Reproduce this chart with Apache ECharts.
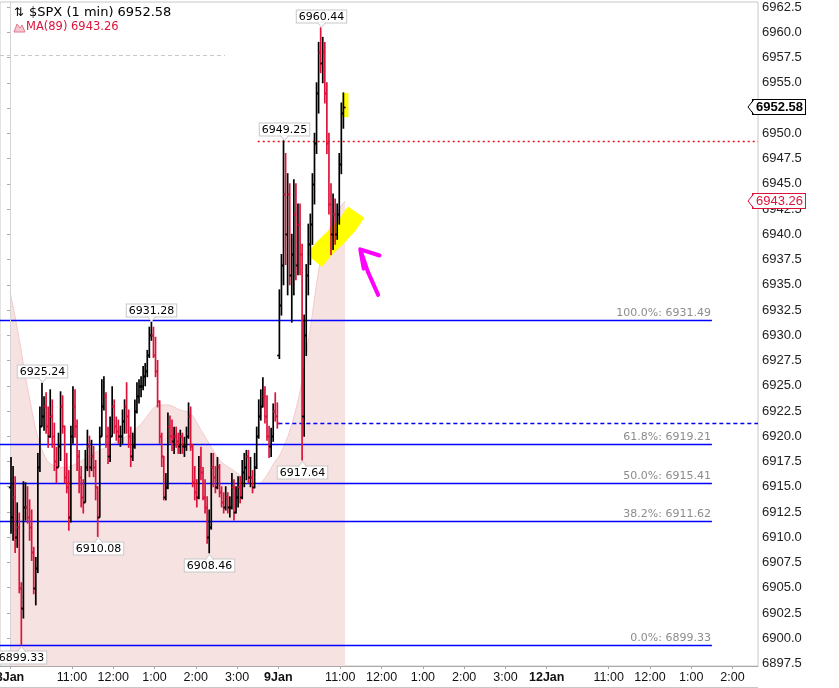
<!DOCTYPE html>
<html><head><meta charset="utf-8">
<script src="https://cdn.jsdelivr.net/npm/echarts@6/dist/echarts.min.js"></script>
<style>html,body{margin:0;padding:0;background:#fff}#c{width:839px;height:688px}</style>
</head><body><div id="c"></div>
<script>
// ---------- DATA ----------
// 3-minute OHLC bars [open, high, low, close], 8 Jan 9:30-16:00
const day1Bars = [
[6915,6917.9,6910.4,6912],[6912,6917,6909.7,6914],[6914,6916,6908.5,6910],[6910,6913.4,6909,6911],
[6911,6912.4,6904.5,6905],[6905,6905.5,6899.33,6903],[6903,6915.5,6902,6913],[6913,6915.4,6911.7,6913],
[6913,6915,6911.4,6912],[6912,6913.7,6909.7,6911],[6911,6912.7,6907.7,6908.5],[6908.5,6909,6904.4,6905],
[6905,6908,6903.3,6907],[6907,6918.3,6906.5,6917],[6917,6922.9,6916.5,6921],[6921,6925.24,6921,6922],
[6922,6923.9,6920.6,6923],[6923,6924.3,6920.3,6921],[6921,6922.9,6918.9,6920],[6920,6924.6,6919.9,6922],
[6922,6923.6,6918.9,6920],[6920,6921.3,6916.6,6917.5],[6917.5,6918.9,6915.4,6917],[6917,6920.3,6917,6919],
[6919,6924.4,6917.6,6923],[6923,6924,6920.3,6921],[6921,6921,6915.4,6916],[6916,6918.3,6914.4,6915],
[6915,6916.6,6910.7,6912],[6912,6921,6911.5,6920],[6920,6924.9,6919.3,6923],[6923,6924.6,6919.9,6921],
[6921,6921.6,6916.6,6918],[6918,6918.6,6914.4,6916],[6916,6917,6913,6914],[6914,6915.7,6912.4,6913.5],
[6913.5,6918.6,6913.5,6917],[6917,6920.6,6916.6,6919],[6919,6920,6916,6917],[6917,6919.6,6916.6,6918],
[6918,6919,6916,6917],[6917,6917.6,6913.7,6915],[6915,6915,6910.08,6912],[6912,6920.9,6912,6920],
[6920,6925.6,6920,6923],[6923,6925.9,6922.6,6924],[6924,6924.3,6918.9,6920],[6920,6920.9,6917.3,6918],
[6918,6921.9,6917.5,6920],[6920,6924.9,6920,6923],[6923,6923.6,6920.3,6921],[6921,6921.9,6919.6,6920.5],
[6920.5,6921.6,6919.3,6920],[6920,6921,6919,6920],[6920,6922.6,6919.3,6921.5],[6921.5,6923.6,6920.3,6923],
[6923,6925.3,6920.3,6922],[6922,6922.6,6918.9,6920],[6920,6920.9,6917,6918],[6918,6920.3,6917.6,6919],
[6919,6923.6,6918.8,6922.5],[6922.5,6925.3,6922.3,6924],[6924,6925.6,6923.3,6925],[6925,6925.9,6923.9,6925],
[6925,6926.9,6924.6,6926],[6926,6927.2,6925,6926.5],[6926.5,6928.5,6925.9,6928],[6928,6930.8,6927.8,6930],
[6930,6931.28,6929.5,6930],[6930,6930.8,6927.8,6928],[6928,6929.8,6925.9,6926.5],[6926.5,6927.5,6922.9,6923.5],
[6923.5,6923.5,6919.3,6920],[6920,6920.3,6917,6918],[6918,6918,6913.7,6914],[6914,6916.3,6913.7,6915],
[6915,6922.3,6914.8,6921],[6921,6922,6919.3,6920],[6920,6921.6,6918.6,6919.5],[6919.5,6920.9,6918.3,6920],
[6920,6920.9,6918.9,6919.5],[6919.5,6920.3,6918.3,6919],[6919,6920.6,6918.3,6920],[6920,6920.3,6918.3,6919],
[6919,6919.9,6918,6919],[6919,6920.9,6918.6,6920],[6920,6923.3,6919.8,6922],[6922,6922.9,6918.6,6919],
[6919,6919.2,6915,6915.5],[6915.5,6917,6913.7,6914.5],[6914.5,6915.7,6913,6914],[6914,6918,6913.8,6917],
[6917,6918.9,6915.7,6916.5],[6916.5,6916.9,6913.7,6914],[6914,6915.7,6912.4,6913],[6913,6914,6909.4,6910],
[6910,6912.7,6908.46,6911],[6911,6918.3,6910.8,6917],[6917,6918.3,6915,6916],[6916,6917,6914.4,6915],
[6915,6917.9,6914.8,6917],[6917,6917.2,6914,6914.5],[6914.5,6915,6913,6913.5],[6913.5,6914.4,6912.4,6913],
[6913,6915,6912.7,6914],[6914,6914.4,6912.4,6913],[6913,6914,6912,6913],[6913,6916.3,6912.8,6915],
[6915,6915.7,6911.7,6912.5],[6912.5,6915,6912.4,6914],[6914,6916,6913,6915],[6915,6916,6913.4,6914],
[6914,6917.6,6913.8,6916.5],[6916.5,6918.3,6915,6917],[6917,6918.6,6915.7,6918],[6918,6918.6,6915.4,6916],
[6916,6917.9,6915,6916],[6916,6916.6,6914.4,6915],[6915,6918.3,6914.9,6917],[6917,6920.9,6916.8,6920],
[6920,6923.6,6919.8,6922],[6922,6924.6,6921.6,6923],[6923,6925.8,6922.9,6924],[6924,6924.9,6921.3,6922],
[6922,6924,6919.6,6920],[6920,6921,6917.9,6919],[6919,6920.8,6918,6920],[6920,6923.2,6919.5,6922.5],
[6922.5,6924.3,6921.5,6922],[6922,6923.3,6920.8,6921.3]
];
// 3-minute OHLC bars, 9 Jan 9:30-11:06
const day2Bars = [
[6928,6934.5,6927.7,6933],[6933,6938,6932,6937],[6937,6949.25,6935,6944],[6944,6948,6937,6940],
[6940,6946,6934,6944],[6944,6945,6935,6936],[6936,6940,6931.3,6938],[6938,6945.4,6934,6942],
[6942,6945,6935.5,6937],[6937,6943,6936,6941],[6941,6943,6936,6938],[6938,6939,6917.64,6922],
[6922,6932,6920,6930],[6930,6937,6928,6936],[6936,6941,6934,6939],[6939,6942,6937,6941],
[6941,6946,6939,6945],[6945,6950,6943,6949],[6949,6955,6948,6954],[6954,6959,6952,6958],
[6958,6960.44,6956,6957],[6957,6959.5,6955,6958],[6958,6959,6953,6954],[6954,6955,6948,6949],
[6949,6950,6942,6943],[6943,6945,6938,6940],[6940,6944,6938.5,6942],[6942,6943.5,6939,6940],
[6940,6943,6939.5,6942],[6942,6948,6941,6947],[6947,6953,6946,6952],[6952,6954,6950.5,6952.58]
];
const barMinutes = 3;
const sessionMinutes = 390;

// MA(89): trading minutes since 8 Jan 9:30, value
const maMinutes = [0,7,15,22,29,36,44,54,65,80,102,124,145,167,189,204,215,230,247,262,276,291,305,327,342,356,371,385,392,407,422,436,451,465,480,487];
const maValues  = [6934.3,6932.0,6929.0,6926.1,6923.6,6921.1,6919.1,6917.6,6917.05,6916.9,6917.5,6918.4,6919.1,6919.9,6921.1,6922.4,6923.1,6923.1,6922.6,6922.3,6920.8,6919.1,6917.6,6916.5,6915.7,6915.0,6915.9,6917.5,6918.1,6920.6,6924.6,6930.5,6937.3,6940.6,6942.7,6943.26];

const fibValues = [6931.49, 6919.21, 6915.41, 6911.62, 6899.33];
const fibPcts   = ['100.0%', '61.8%', '50.0%', '38.2%', '0.0%'];
const prevClose = 6921.35;
const resistance = 6949.25;
const lastPrice = 6952.58;
const lastMA = 6943.26;

// labelled extremes: [day, bar, value, side]
const extremes = [
[0,5,6899.33,'bottom'],[0,15,6925.24,'top'],[0,42,6910.08,'bottom'],[0,68,6931.28,'top'],
[0,96,6908.46,'bottom'],[1,2,6949.25,'top'],[1,11,6917.64,'bottom'],[1,20,6960.44,'top']
];

const xTickMinutes = [0,90,150,210,270,330,390,480,540,600,660,720,780,870,930,990,1050];
const xTickLabels  = ['8Jan','11:00','12:00','1:00','2:00','3:00','9Jan','11:00','12:00','1:00','2:00','3:00','12Jan','11:00','12:00','1:00','2:00'];
const yTickValues = [6897.5,6900,6902.5,6905,6907.5,6910,6912.5,6915,6917.5,6920,6922.5,6925,6927.5,6930,6932.5,6935,6937.5,6940,6942.5,6945,6947.5,6950,6952.5,6955,6957.5,6960,6962.5];

// hand-drawn annotations (minute, price)
const highlightBig   = [[442,6937.4],[458,6938.7],[475,6939.8],[491,6941.0],[503,6942.2]];
const highlightSmall = [[487.5,6954.0],[487.5,6951.6]];
const arrowShaft = [[511,6938.1],[520,6936.3],[535,6934.0]];
const arrowHead  = [[537,6937.9],[509,6938.5],[514,6936.6]];

// ---------- CHART ----------
const X_MIN = -14.5, X_MAX = 1087, Y_MIN = 6897.25, Y_MAX = 6963;
const RED = '#dc143c';
const bars = [];
let prevC = null;
[day1Bars, day2Bars].forEach((dayBars, d) => {
  dayBars.forEach((b, i) => {
    const m = d * sessionMinutes + i * barMinutes + barMinutes / 2;
    const up = prevC === null || b[3] >= prevC ? 1 : 0;
    bars.push([m, b[0], b[1], b[2], b[3], up]);
    prevC = b[3];
  });
});
const barMinute = (d, i) => d * sessionMinutes + i * barMinutes + barMinutes / 2;

const chart = echarts.init(document.getElementById('c'), null, {renderer: 'canvas'});
const axisFont = '"Liberation Sans", Arial, sans-serif';
const txtFont = '"DejaVu Sans", Verdana, sans-serif';

chart.setOption({
  animation: false,
  backgroundColor: '#fff',
  grid: {left: 0, right: 81, top: 2, bottom: 22, show: true, borderColor: '#c8c8c8', borderWidth: 1,
         containLabel: false, outerBoundsMode: 'none'},
  xAxis: {
    type: 'value', min: X_MIN, max: X_MAX,
    splitLine: {show: false},
    axisLine: {show: true, lineStyle: {color: '#aaa'}},
    axisTick: {show: true, customValues: xTickMinutes, length: 3, lineStyle: {color: '#aaa'}},
    axisLabel: {
      customValues: xTickMinutes, margin: 5, color: '#111', fontSize: 12.5, fontFamily: axisFont,
      formatter: v => {
        const k = xTickMinutes.indexOf(v);
        const t = k >= 0 ? xTickLabels[k] : '';
        return t.indexOf('Jan') >= 0 ? '{b|' + t + '}' : t;
      },
      rich: {b: {fontWeight: 'bold', fontSize: 12.5, fontFamily: axisFont, color: '#111'}}
    }
  },
  yAxis: {
    type: 'value', position: 'right', min: Y_MIN, max: Y_MAX,
    splitLine: {show: false},
    axisLine: {show: true, lineStyle: {color: '#aaa'}},
    axisTick: {show: true, customValues: yTickValues, inside: true, length: 3, lineStyle: {color: '#aaa'}},
    axisLabel: {customValues: yTickValues, margin: 4, color: '#222', fontSize: 13, fontFamily: axisFont,
      formatter: v => v.toFixed(1)}
  },
  graphic: [
    {type: 'text', left: 14, top: 7, style: {text: '⇅', font: '12px ' + txtFont, fill: '#000'}},
    {type: 'text', left: 29, top: 6, style: {text: '$SPX (1 min) 6952.58', font: '13px ' + txtFont, fill: '#000'}},
    {type: 'polygon', shape: {points: [[14,32],[17,24],[20,28],[22,25],[25,32]]}, style: {fill: '#f4c6cf', stroke: '#e07a90', lineWidth: 1}},
    {type: 'text', left: 26, top: 21, style: {text: 'MA(89) 6943.26', font: '11.5px ' + txtFont, fill: RED}},
    {type: 'line', shape: {x1: 0, y1: 55.5, x2: 225, y2: 55.5}, style: {stroke: '#c8c8c8', lineDash: [4, 3], lineWidth: 1}},
    {type: 'line', shape: {x1: 0, y1: 687.5, x2: 758, y2: 687.5}, style: {stroke: '#c8c8c8', lineWidth: 1}}
  ],
  series: [
    { // MA(89) mountain
      type: 'line', z: 1, symbol: 'none', smooth: 0.3,
      data: maMinutes.map((m, i) => [m, maValues[i]]),
      lineStyle: {color: '#f2cccc', width: 1},
      areaStyle: {color: '#f7e2e2', opacity: 1, origin: 'start'}
    },
    { // day separator + Fibonacci levels + reference lines
      type: 'custom', z: 2, silent: true,
      data: fibValues.map((v, i) => [i, v]),
      renderItem: (params, api) => {
        const i = params.dataIndex;
        const v = api.value(1);
        const a = api.coord([X_MIN, v]);
        const b = api.coord([1020, v]);
        const y = Math.round(a[1]) + 0.5;
        const children = [
          {type: 'line', shape: {x1: a[0], y1: y, x2: b[0], y2: y}, style: {stroke: '#0000ff', lineWidth: 1.3}},
          {type: 'text', style: {text: fibPcts[i] + ': ' + v.toFixed(2), x: b[0] - 1, y: y - 2, align: 'right', verticalAlign: 'bottom', font: '11px ' + txtFont, fill: '#8c8c8c'}}
        ];
        if (i === 0) {
          const s1 = api.coord([0, Y_MAX]), s2 = api.coord([0, Y_MIN]);
          const sx = Math.round(s1[0]) + 0.5;
          children.push({type: 'line', shape: {x1: sx, y1: s1[1], x2: sx, y2: s2[1]}, style: {stroke: '#d4d4d4', lineWidth: 1}});
          const r1 = api.coord([360, resistance]), r2 = api.coord([X_MAX, resistance]);
          const ry = Math.round(r1[1]) + 0.5;
          children.push({type: 'line', shape: {x1: r1[0], y1: ry, x2: r2[0], y2: ry}, style: {stroke: '#e8101a', lineWidth: 1.3, lineDash: [2, 3]}});
          const p1 = api.coord([390, prevClose]), p2 = api.coord([X_MAX, prevClose]);
          const py = Math.round(p1[1]) + 0.5;
          children.push({type: 'line', shape: {x1: p1[0], y1: py, x2: p2[0], y2: py}, style: {stroke: '#0000ff', lineWidth: 1.4, lineDash: [4, 3]}});
        }
        return {type: 'group', children};
      }
    },
    { // yellow highlighter strokes
      type: 'line', z: 3, symbol: 'none', silent: true,
      data: highlightBig, lineStyle: {color: '#ffff00', width: 20, cap: 'butt', join: 'round'}
    },
    {
      type: 'line', z: 3, symbol: 'none', silent: true,
      data: highlightSmall, lineStyle: {color: '#ffff00', width: 6, cap: 'butt'}
    },
    { // OHLC bars
      type: 'custom', z: 4,
      data: bars,
      encode: {x: 0, y: [2, 3]},
      renderItem: (params, api) => {
        const m = api.value(0);
        const pH = api.coord([m, api.value(2)]), pL = api.coord([m, api.value(3)]);
        const pO = api.coord([m, api.value(1)]), pC = api.coord([m, api.value(4)]);
        const x = pH[0];
        const col = api.value(5) ? '#000' : RED;
        const st = {stroke: col, lineWidth: 1.7};
        return {type: 'group', children: [
          {type: 'line', shape: {x1: x, y1: pH[1] - 0.5, x2: x, y2: pL[1] + 0.5}, style: st},
          {type: 'line', shape: {x1: x - 2.2, y1: Math.round(pO[1]) + 0.5, x2: x, y2: Math.round(pO[1]) + 0.5}, style: st},
          {type: 'line', shape: {x1: x, y1: Math.round(pC[1]) + 0.5, x2: x + 2.2, y2: Math.round(pC[1]) + 0.5}, style: st}
        ]};
      }
    },
    { // extreme value call-outs
      type: 'custom', z: 6, silent: true,
      data: extremes.map(e => [barMinute(e[0], e[1]), e[2]]),
      renderItem: (params, api) => {
        const e = extremes[params.dataIndex];
        const p = api.coord([api.value(0), api.value(1)]);
        const x = Math.round(p[0]) + 0.5;
        const top = e[3] === 'top';
        const tri = 5, gap = 1;
        const yb = top ? Math.round(p[1] - gap - tri) + 0.5 : Math.round(p[1] + gap + tri) + 0.5;
        const tip = top ? yb + tri : yb - tri;
        return {type: 'group', children: [
          {type: 'text', style: {text: e[2].toFixed(2), x: x, y: yb, align: 'center', verticalAlign: top ? 'bottom' : 'top',
            font: '11px ' + txtFont, fill: '#000', backgroundColor: '#fff', borderColor: '#c8c8c8', borderWidth: 1, padding: [1, 2, 0, 2]}},
          {type: 'polygon', shape: {points: [[x - 4, yb], [x + 4, yb], [x, tip]]}, style: {fill: '#fff'}},
          {type: 'polyline', shape: {points: [[x - 4, yb], [x, tip], [x + 4, yb]]}, style: {stroke: '#c8c8c8', fill: null, lineWidth: 1}}
        ]};
      }
    },
    { // magenta arrow
      type: 'line', z: 7, symbol: 'none', silent: true,
      data: arrowShaft, lineStyle: {color: '#ff00ff', width: 4, cap: 'round', join: 'round'}
    },
    {
      type: 'line', z: 7, symbol: 'none', silent: true,
      data: arrowHead, lineStyle: {color: '#ff00ff', width: 4, cap: 'round', join: 'round'}
    },
    { // price tags on the axis
      type: 'custom', z: 8, silent: true, clip: false,
      data: [[X_MAX, lastPrice], [X_MAX, lastMA]],
      renderItem: (params, api) => {
        const i = params.dataIndex;
        const v = api.value(1);
        const p = api.coord([X_MAX, v]);
        const x = Math.round(p[0]) - 6, y = Math.round(p[1]);
        const col = i === 0 ? '#000' : RED;
        return {type: 'group', children: [
          {type: 'text', style: {text: v.toFixed(2), x: x + 1, y: y, align: 'left', verticalAlign: 'middle',
            font: (i === 0 ? 'bold ' : '') + '13px ' + axisFont, fill: col, backgroundColor: '#fff', borderColor: col, borderWidth: 1, padding: [1, 2, 0, 3]}},
          {type: 'polygon', shape: {points: [[x - 4, y], [x + 1.5, y - 6], [x + 1.5, y + 6]]}, style: {fill: '#fff'}},
          {type: 'polyline', shape: {points: [[x + 1.5, y - 7], [x - 4, y], [x + 1.5, y + 7]]}, style: {stroke: col, fill: null, lineWidth: 1}}
        ]};
      }
    }
  ]
});
</script></body></html>
